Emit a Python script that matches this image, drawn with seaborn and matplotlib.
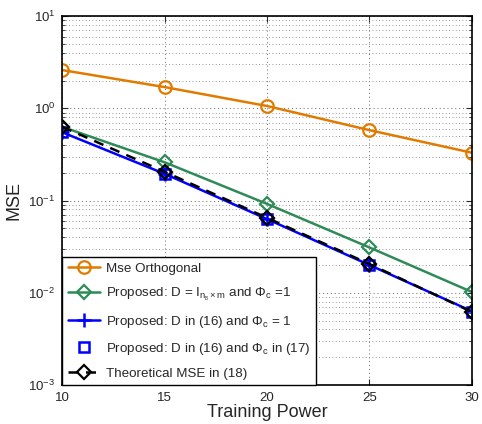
import numpy as np
import pandas as pd
import matplotlib
matplotlib.use("Agg")
import matplotlib.pyplot as plt
import seaborn as sns

# data
power = [10, 15, 20, 25, 30]
mse_orth = [2.6, 1.7, 1.06, 0.58, 0.33]
mse_prop_identity = [0.63, 0.26, 0.092, 0.031, 0.0102]
mse_prop_d16 = [0.55, 0.195, 0.063, 0.020, 0.0063]
mse_prop_d16_phi17 = [0.56, 0.195, 0.063, 0.020, 0.0062]
mse_theory = [0.63, 0.205, 0.065, 0.0205, 0.0062]

labels = [
    "Mse Orthogonal",
    r"Proposed: D = I$_{n_{_B} \times m}$ and $\Phi_c$ =1",
    r"Proposed: D in (16) and $\Phi_c$ = 1",
    r"Proposed: D in (16) and $\Phi_c$ in (17)",
    "Theoretical MSE in (18)",
]

sns.set_style("ticks")
plt.rcParams["font.family"] = ["Liberation Sans", "DejaVu Sans"]
plt.rcParams["mathtext.fontset"] = "custom"
plt.rcParams["mathtext.rm"] = "Liberation Sans"
plt.rcParams["mathtext.it"] = "Liberation Sans"
plt.rcParams["mathtext.bf"] = "Liberation Sans:bold"

fig = plt.figure(figsize=(4.82, 4.24), dpi=100)
ax = fig.add_axes([0.129, 0.092, 0.850, 0.870])

orange = "#E07B00"
green = "#2E8B57"
blue = "#0000FF"

sns.lineplot(x=power, y=mse_orth, ax=ax, color=orange, lw=1.8, marker="o",
             markersize=9, markerfacecolor="none", markeredgecolor=orange,
             markeredgewidth=1.6, label=labels[0])
sns.lineplot(x=power, y=mse_prop_identity, ax=ax, color=green, lw=1.8, marker="D",
             markersize=7.5, markerfacecolor="none", markeredgecolor=green,
             markeredgewidth=1.6, label=labels[1])
sns.lineplot(x=power, y=mse_prop_d16, ax=ax, color=blue, lw=1.8, marker="+",
             markersize=10, markeredgecolor=blue, markeredgewidth=1.8,
             label=labels[2])
sns.lineplot(x=power, y=mse_prop_d16_phi17, ax=ax, color=blue, lw=0, marker="s",
             markersize=6.5, markerfacecolor="none", markeredgecolor=blue,
             markeredgewidth=1.8, label=labels[3])
sns.lineplot(x=power, y=mse_theory, ax=ax, color="black", lw=1.8, marker="D",
             markersize=7.5, markerfacecolor="none", markeredgecolor="black",
             markeredgewidth=1.6, label=labels[4])
ax.lines[-1].set_dashes([4, 3])

ax.set_yscale("log")
ax.set_xlim(10, 30)
ax.set_ylim(1e-3, 1e1)
ax.set_xticks([10, 15, 20, 25, 30])
ax.set_xlabel("Training Power", fontsize=13, labelpad=0)
ax.set_ylabel("MSE", fontsize=13, labelpad=4)

ax.grid(True, which="major", axis="both", linestyle=(0, (1, 3)), color="#666666", lw=0.7)
ax.grid(True, which="minor", axis="y", linestyle=(0, (1, 3)), color="#777777", lw=0.6)
ax.tick_params(which="both", direction="in", top=True, right=True, labelsize=9.5)
ax.tick_params(which="major", length=4, pad=5)
ax.tick_params(which="minor", length=2)
for s in ax.spines.values():
    s.set_linewidth(1.2)
    s.set_color("black")

leg = ax.legend(loc="lower left", fontsize=9.6, frameon=True, fancybox=False,
                edgecolor="black", borderaxespad=0, labelspacing=0.8,
                handlelength=2.4, handletextpad=0.5, borderpad=0.4)
leg.get_frame().set_linewidth(1.0)
leg.get_frame().set_alpha(1)

fig.savefig("out.png", dpi=100)
